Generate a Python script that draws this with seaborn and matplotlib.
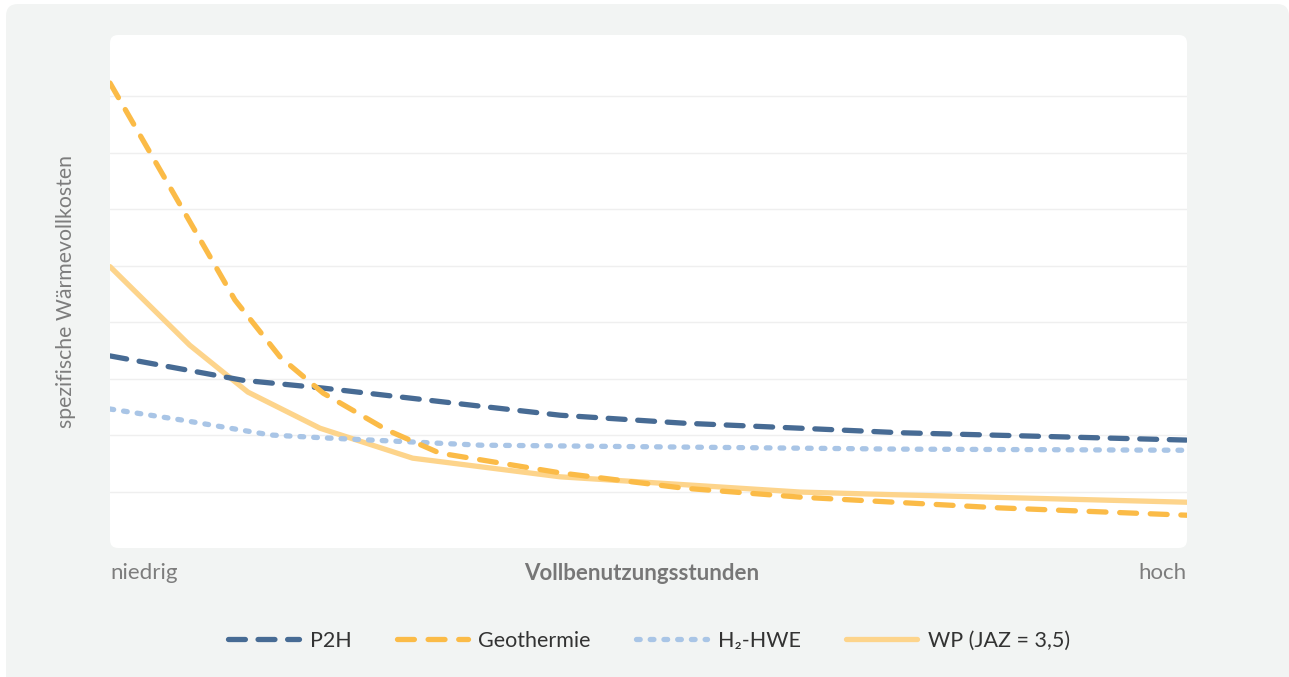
import pandas as pd
import seaborn as sns
import matplotlib.pyplot as plt
from matplotlib.patches import FancyBboxPatch
from matplotlib.transforms import IdentityTransform

# relative position along the Vollbenutzungsstunden axis (0 = niedrig, 100 = hoch)
p2h_x = [0, 12.3, 19.8, 34.4, 41.8, 53.2, 64.1, 73.4, 100]
p2h_y = [3.40, 2.97, 2.83, 2.51, 2.35, 2.21, 2.12, 2.04, 1.91]

geo_x = [0, 11.6, 15.8, 19.8, 25.7, 30.6, 41.8, 53.2, 64.1, 82.6, 100]
geo_y = [8.23, 4.39, 3.38, 2.74, 2.09, 1.68, 1.33, 1.06, 0.90, 0.71, 0.58]

h2_x = [0, 6.5, 14.9, 19.8, 34.4, 73.4, 100]
h2_y = [2.46, 2.27, 2.00, 1.95, 1.82, 1.75, 1.73]

wp_x = [0, 7.4, 12.8, 19.5, 28.1, 41.8, 64.1, 73.4, 100]
wp_y = [4.98, 3.59, 2.76, 2.12, 1.59, 1.26, 0.99, 0.94, 0.81]

labels = ["P2H", "Geothermie", "H₂-HWE", "WP (JAZ = 3,5)"]
colors = ["#476b94", "#fbbb47", "#a9c5e6", "#fdd48b"]
grid_levels = [1, 2, 3, 4, 5, 6, 7, 8]

sns.set_theme(style="white")
plt.rcParams['font.family'] = ['Lato', 'DejaVu Sans']

fig = plt.figure(figsize=(12.89, 6.77), dpi=100)
fig.patch.set_facecolor("white")

# grey outer panel and white plot card (pixel coordinates)
fig.patches.append(FancyBboxPatch((6, -30), 1283, 703, boxstyle="round,pad=0,rounding_size=12",
                                  facecolor="#f2f4f3", edgecolor="none",
                                  transform=IdentityTransform(), zorder=-2, figure=fig))
fig.patches.append(FancyBboxPatch((110, 129), 1077, 513, boxstyle="round,pad=0,rounding_size=8",
                                  facecolor="white", edgecolor="none",
                                  transform=IdentityTransform(), zorder=-1, figure=fig))

ax = fig.add_axes([110 / 1289, 129 / 677, 1077 / 1289, 513 / 677])
ax.patch.set_visible(False)

series = [(p2h_x, p2h_y), (geo_x, geo_y), (h2_x, h2_y), (wp_x, wp_y)]
dash_styles = [(3.2, 2.4), (3.2, 2.6), (0.7, 1.9), None]
zorders = [4, 5, 3, 2]
for (xs, ys), lab, col, dsh, z in zip(series, labels, colors, dash_styles, zorders):
    df = pd.DataFrame({"x": xs, "y": ys})
    sns.lineplot(data=df, x="x", y="y", ax=ax, color=col, lw=3.8, label=lab, zorder=z)
    line = ax.lines[-1]
    if dsh is not None:
        line.set_dashes(dsh)
    line.set_dash_capstyle("round")
    line.set_solid_capstyle("round")

ax.set_xlim(0, 100)
ax.set_ylim(0, 9.08)
ax.set_yticks(grid_levels)
ax.set_xticks([])
ax.yaxis.grid(True, color="#efefef", lw=1)
ax.tick_params(length=0, labelleft=False, labelbottom=False)
ax.set_xlabel("")
ax.set_ylabel("")
sns.despine(ax=ax, left=True, bottom=True)

ax.text(0, -0.049, "niedrig", transform=ax.transAxes, ha="left", va="center",
        fontsize=16, color="#7d7d7d")
ax.text(1, -0.049, "hoch", transform=ax.transAxes, ha="right", va="center",
        fontsize=16, color="#7d7d7d")
ax.text(0.494, -0.049, "Vollbenutzungsstunden", transform=ax.transAxes, ha="center",
        va="center", fontsize=16, color="#777777", fontweight="bold")
ax.text(-44 / 1077, 0.5, "spezifische Wärmevollkosten", transform=ax.transAxes,
        rotation=90, ha="center", va="center", fontsize=15.3, color="#7d7d7d")

leg = ax.legend(loc="center", bbox_to_anchor=(649 / 1289, 36 / 677),
                bbox_transform=fig.transFigure, ncol=4, frameon=False, fontsize=15.5,
                handlelength=3.3, handletextpad=0.5, columnspacing=2.1)
for t in leg.get_texts():
    t.set_color("#333333")

fig.savefig("out.png", dpi=100)
